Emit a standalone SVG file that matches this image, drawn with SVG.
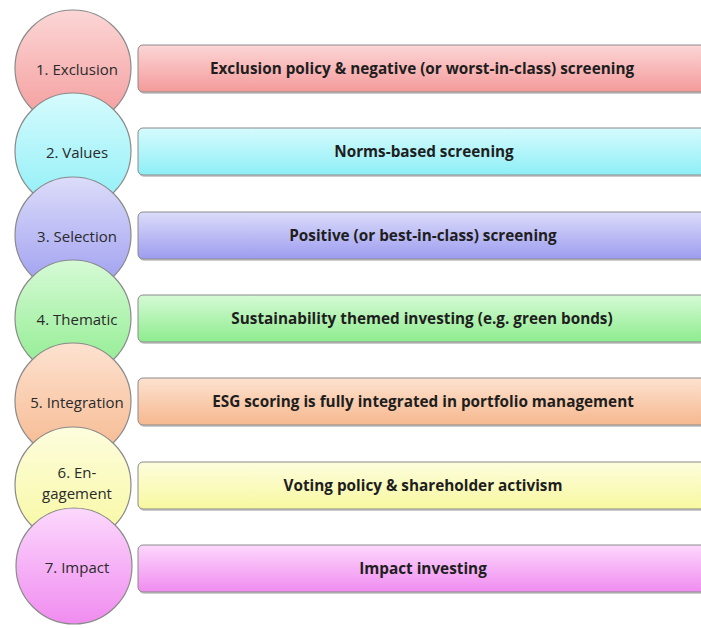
<svg xmlns="http://www.w3.org/2000/svg" width="701" height="628" viewBox="0 0 701 628">
<defs>
<linearGradient id="g1" x1="0" y1="0" x2="0" y2="1"><stop offset="0" stop-color="#fcd6d6"/><stop offset="1" stop-color="#f49a9a"/></linearGradient>
<linearGradient id="g2" x1="0" y1="0" x2="0" y2="1"><stop offset="0" stop-color="#d6fbfd"/><stop offset="1" stop-color="#8eeff7"/></linearGradient>
<linearGradient id="g3" x1="0" y1="0" x2="0" y2="1"><stop offset="0" stop-color="#dcdcfa"/><stop offset="1" stop-color="#9c9cf0"/></linearGradient>
<linearGradient id="g4" x1="0" y1="0" x2="0" y2="1"><stop offset="0" stop-color="#d6fad6"/><stop offset="1" stop-color="#8eec8e"/></linearGradient>
<linearGradient id="g5" x1="0" y1="0" x2="0" y2="1"><stop offset="0" stop-color="#fde2d0"/><stop offset="1" stop-color="#f6b88e"/></linearGradient>
<linearGradient id="g6" x1="0" y1="0" x2="0" y2="1"><stop offset="0" stop-color="#fdfdde"/><stop offset="1" stop-color="#f8f8a0"/></linearGradient>
<linearGradient id="g7" x1="0" y1="0" x2="0" y2="1"><stop offset="0" stop-color="#fcd8fc"/><stop offset="1" stop-color="#f08cf0"/></linearGradient>
</defs>
<style>
.c{stroke:#8a8a8a;stroke-width:1.2}
.b{stroke:#8a8a8a;stroke-width:1}
.sh{fill:#9a9a9a;opacity:0.5}
.ct{font-family:"Open Sans","DejaVu Sans",sans-serif;font-size:15px;fill:#2a2a2a;text-anchor:middle}
.bt{font-family:"Open Sans","DejaVu Sans",sans-serif;font-size:15.3px;font-weight:bold;fill:#1e1e1e;text-anchor:middle}
</style>
<g id="bars">
<g id="bar1"><rect class="sh" x="139" y="47" width="570" height="47" rx="5"/><rect class="b" x="138" y="45" width="570" height="47" rx="5" fill="url(#g1)"/><text class="bt" x="422" y="74">Exclusion policy &amp; negative (or worst-in-class) screening</text></g>
<g id="bar2"><rect class="sh" x="139" y="130" width="570" height="47" rx="5"/><rect class="b" x="138" y="128" width="570" height="47" rx="5" fill="url(#g2)"/><text class="bt" x="424" y="157">Norms-based screening</text></g>
<g id="bar3"><rect class="sh" x="139" y="214" width="570" height="47" rx="5"/><rect class="b" x="138" y="212" width="570" height="47" rx="5" fill="url(#g3)"/><text class="bt" x="423" y="241">Positive (or best-in-class) screening</text></g>
<g id="bar4"><rect class="sh" x="139" y="297" width="570" height="47" rx="5"/><rect class="b" x="138" y="295" width="570" height="47" rx="5" fill="url(#g4)"/><text class="bt" x="422" y="324">Sustainability themed investing (e.g. green bonds)</text></g>
<g id="bar5"><rect class="sh" x="139" y="380" width="570" height="47" rx="5"/><rect class="b" x="138" y="378" width="570" height="47" rx="5" fill="url(#g5)"/><text class="bt" x="423" y="407">ESG scoring is fully integrated in portfolio management</text></g>
<g id="bar6"><rect class="sh" x="139" y="464" width="570" height="47" rx="5"/><rect class="b" x="138" y="462" width="570" height="47" rx="5" fill="url(#g6)"/><text class="bt" x="423" y="491">Voting policy &amp; shareholder activism</text></g>
<g id="bar7"><rect class="sh" x="139" y="547" width="570" height="47" rx="5"/><rect class="b" x="138" y="545" width="570" height="47" rx="5" fill="url(#g7)"/><text class="bt" x="423" y="574">Impact investing</text></g>
</g>
<g id="circles">
<g id="c1"><circle class="c" cx="73" cy="68" r="58" fill="url(#g1)"/><text class="ct" x="77" y="75">1. Exclusion</text></g>
<g id="c2"><circle class="c" cx="73" cy="151" r="58" fill="url(#g2)"/><text class="ct" x="77" y="158">2. Values</text></g>
<g id="c3"><circle class="c" cx="73" cy="235" r="58" fill="url(#g3)"/><text class="ct" x="77" y="242">3. Selection</text></g>
<g id="c4"><circle class="c" cx="73" cy="318" r="58" fill="url(#g4)"/><text class="ct" x="77" y="325">4. Thematic</text></g>
<g id="c5"><circle class="c" cx="73" cy="401" r="58" fill="url(#g5)"/><text class="ct" x="77" y="408">5. Integration</text></g>
<g id="c6"><circle class="c" cx="73" cy="485" r="58" fill="url(#g6)"/><text class="ct" x="77" y="478">6. En-</text><text class="ct" x="77" y="499">gagement</text></g>
<g id="c7"><circle class="c" cx="74" cy="566" r="58" fill="url(#g7)"/><text class="ct" x="77" y="573">7. Impact</text></g>
</g>
</svg>
